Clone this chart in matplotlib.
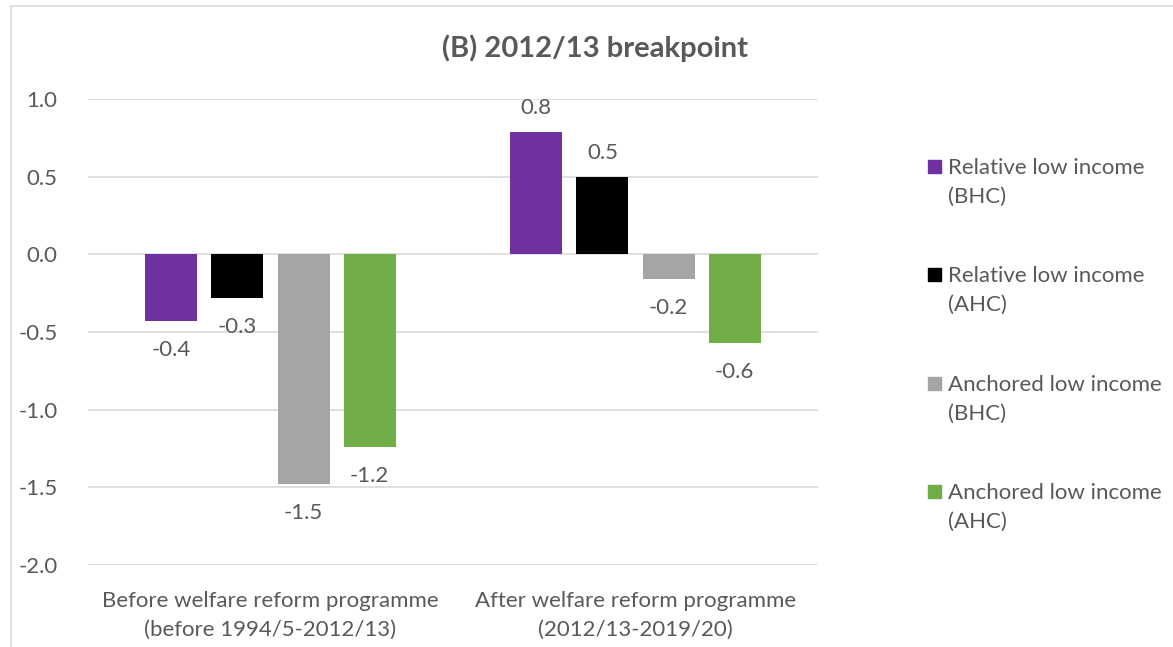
import matplotlib
matplotlib.use("Agg")
import matplotlib.pyplot as plt
from matplotlib.patches import Rectangle
from matplotlib.lines import Line2D
import numpy as np

# --- data -------------------------------------------------------------
periods = [
    "Before welfare reform programme\n(before 1994/5-2012/13)",
    "After welfare reform programme\n(2012/13-2019/20)",
]
series_names = [
    "Relative low income\n(BHC)",
    "Relative low income\n(AHC)",
    "Anchored low income\n(BHC)",
    "Anchored low income\n(AHC)",
]
relative_bhc = [-0.43, 0.79]
relative_ahc = [-0.28, 0.50]
anchored_bhc = [-1.48, -0.16]
anchored_ahc = [-1.24, -0.57]
y_ticks = [-2.0, -1.5, -1.0, -0.5, 0.0, 0.5, 1.0]
title = "(B) 2012/13 breakpoint"

# --- style ------------------------------------------------------------
colors = ["#7030A0", "#000000", "#A5A5A5", "#70AD47"]
text_color = "#595959"
grid_color = "#D9D9D9"
plt.rcParams["font.family"] = ["Lato", "DejaVu Sans"]
fs = 16

W, H = 1173, 647
fig = plt.figure(figsize=(W / 100, H / 100), dpi=100)

# chart frame
fig.add_artist(Line2D([11 / W, 11 / W], [0, 1 - 6 / H], transform=fig.transFigure,
                      color=grid_color, lw=1.2))
fig.add_artist(Line2D([11 / W, 1], [1 - 6 / H, 1 - 6 / H], transform=fig.transFigure,
                      color=grid_color, lw=1.2))

left, right = 88 / W, 818 / W
top, bottom = 1 - 99 / H, 1 - 565 / H
ax = fig.add_axes([left, bottom, right - left, top - bottom])

all_series = [relative_bhc, relative_ahc, anchored_bhc, anchored_ahc]
x = np.arange(len(periods))
step = 0.181
width = 0.1425
offsets = (np.arange(len(all_series)) - 1.5) * step

for vals, off, col in zip(all_series, offsets, colors):
    bars = ax.bar(x + off, vals, width=width, color=col, zorder=3)
    for rect, v in zip(bars, vals):
        dy = 24 if v >= 0 else -29
        ax.annotate(f"{v:.1f}", xy=(rect.get_x() + rect.get_width() / 2, v),
                    xytext=(0, dy), textcoords="offset pixels",
                    ha="center", va="center", fontsize=fs, color=text_color)

ax.set_xlim(-0.5, len(periods) - 0.5)
ax.set_ylim(-2.0, 1.0)
ax.set_yticks(y_ticks)
ax.set_yticklabels([f"{t:.1f}" for t in y_ticks])
ax.set_xticks(x)
ax.set_xticklabels(periods)
ax.tick_params(axis="y", length=0, pad=22, labelsize=fs, labelcolor=text_color)
ax.tick_params(axis="x", length=0, pad=19, labelsize=fs, labelcolor=text_color)
for lbl in ax.get_xticklabels():
    lbl.set_linespacing(1.55)
ax.grid(axis="y", color=grid_color, lw=1.2, zorder=0)
for s in ax.spines.values():
    s.set_visible(False)

fig.text(0.507, 1 - 48 / H, title, ha="center", va="center",
         fontsize=21, fontweight="bold", color=text_color)

# legend
leg_y = [166, 274, 383, 491]
for name, col, yy in zip(series_names, colors, leg_y):
    fig.add_artist(Rectangle((928 / W, 1 - (yy + 7) / H), 13 / W, 13 / H,
                             transform=fig.transFigure, color=col))
    fig.text(948 / W, 1 - (yy - 8) / H, name, ha="left", va="top",
             fontsize=fs, color=text_color, linespacing=1.55)

fig.savefig("out.png", dpi=100)
